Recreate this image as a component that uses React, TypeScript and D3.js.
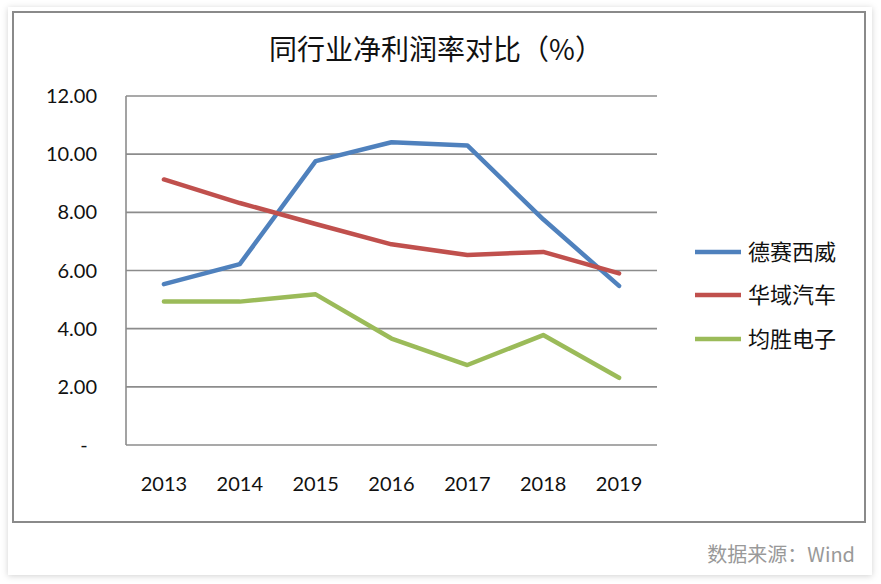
import React from "react";
import * as d3 from "d3";

const years = ["2013", "2014", "2015", "2016", "2017", "2018", "2019"];
const seriesNames = ["德赛西威", "华域汽车", "均胜电子"];
const deSay = [5.53, 6.22, 9.76, 10.41, 10.3, 7.76, 5.47];
const huaYu = [9.13, 8.32, 7.6, 6.9, 6.53, 6.64, 5.9];
const junSheng = [4.93, 4.93, 5.18, 3.66, 2.75, 3.78, 2.31];
const yTicks = [0, 2, 4, 6, 8, 10, 12];
const colors = ["#4F81BD", "#C0504D", "#9BBB59"];
const title = "同行业净利润率对比（%）";
const source = "数据来源：Wind";

export default function App() {
  const W = 881, H = 584;
  const left = 126, right = 657, top = 96, bottom = 445;
  const x = d3.scaleBand().domain(years).range([left, right]);
  const y = d3.scaleLinear().domain([0, 12]).range([bottom, top]);
  const line = d3
    .line<number>()
    .x((_, i) => (x(years[i]) as number) + x.bandwidth() / 2)
    .y((d) => y(d));
  const data = [deSay, huaYu, junSheng];
  const legendY = [252, 295, 339];
  const font = "'Noto Sans CJK SC', 'Noto Sans', sans-serif";
  const numFont = "Lato, 'Open Sans', sans-serif";
  return (
    <svg
      width={W}
      height={H}
      style={{ position: "absolute", left: 0, top: 0 }}
    >
      <defs>
        <filter id="sh" x="-5%" y="-5%" width="110%" height="110%">
          <feDropShadow dx="0" dy="1" stdDeviation="3" floodColor="#000" floodOpacity="0.18" />
        </filter>
      </defs>
      <rect x={0} y={0} width={W} height={H} fill="#fff" />
      <rect x={8} y={7} width={864} height={568} fill="#fff" filter="url(#sh)" />
      <rect x={13} y={12} width={852} height={510} fill="#fff" stroke="#8a8a8a" strokeWidth={2} />
      <text x={436} y={60} textAnchor="middle" fontFamily={font} fontSize={28} fill="#111">
        {title}
      </text>
      {yTicks.map((t) => (
        <g key={t}>
          <line x1={left} x2={right} y1={y(t)} y2={y(t)} stroke="#8c8c8c" strokeWidth={1.6} />
          <text
            x={t === 0 ? 84 : 97}
            y={y(t) + 7}
            textAnchor={t === 0 ? "middle" : "end"}
            fontFamily={numFont}
            fontSize={20}
            fill="#111"
          >
            {t === 0 ? "-" : t.toFixed(2)}
          </text>
        </g>
      ))}
      <line x1={left} x2={left} y1={top} y2={bottom} stroke="#8c8c8c" strokeWidth={1.6} />
      {years.map((yr) => (
        <text
          key={yr}
          x={(x(yr) as number) + x.bandwidth() / 2}
          y={491}
          textAnchor="middle"
          fontFamily={numFont}
          fontSize={20}
          fill="#111"
        >
          {yr}
        </text>
      ))}
      {data.map((d, i) => (
        <path
          key={i}
          d={line(d) as string}
          fill="none"
          stroke={colors[i]}
          strokeWidth={4.5}
          strokeLinejoin="round"
          strokeLinecap="round"
        />
      ))}
      {seriesNames.map((n, i) => (
        <g key={n}>
          <line x1={695} x2={741} y1={legendY[i]} y2={legendY[i]} stroke={colors[i]} strokeWidth={4.5} />
          <text x={748} y={legendY[i] + 8} fontFamily={font} fontSize={22} fill="#111">
            {n}
          </text>
        </g>
      ))}
      <text x={855} y={562} textAnchor="end" fontFamily={font} fontSize={20} fill="#999">
        {source}
      </text>
    </svg>
  );
}
